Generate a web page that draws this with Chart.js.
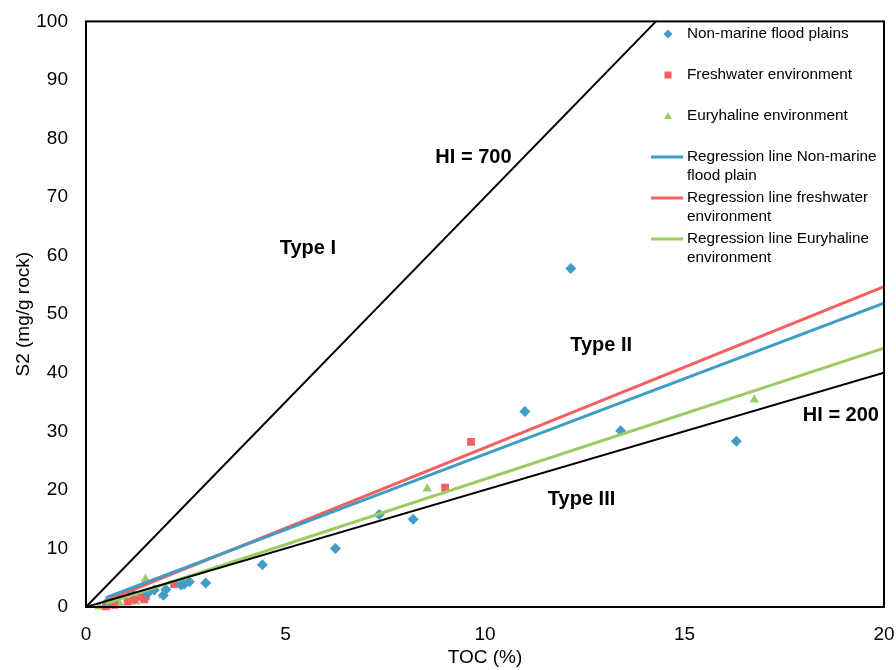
<!DOCTYPE html>
<html>
<head>
<meta charset="utf-8">
<script src="https://cdn.jsdelivr.net/npm/chart.js@4/dist/chart.umd.min.js"></script>
<style>
  html, body { margin: 0; padding: 0; background: #fff; }
  #wrap { width: 896px; height: 670px; }
</style>
</head>
<body>
<div id="wrap"><canvas id="c" width="896" height="670"></canvas></div>
<script>
// ---- Data ----
const tocNonMarine = [0.54, 1.13, 1.54, 1.71, 1.94, 2.0, 2.38, 2.46, 2.59, 3.0, 4.42, 6.25, 7.35, 8.2, 11.0, 12.15, 13.4, 16.3];
const s2NonMarine  = [0.9, 2.5, 2.3, 2.9, 2.0, 3.0, 3.75, 3.9, 4.3, 4.1, 7.2, 10.0, 15.8, 15.0, 33.4, 57.8, 30.1, 28.3];

const tocFreshwater = [0.5, 0.71, 1.04, 1.2, 1.38, 1.46, 1.5, 2.21, 9.0, 9.65];
const s2Freshwater  = [0.1, 0.35, 0.9, 1.3, 1.75, 1.3, 1.8, 3.9, 20.4, 28.2];

const tocEuryhaline = [0.33, 0.63, 0.83, 1.13, 1.25, 1.49, 1.92, 8.55, 16.75];
const s2Euryhaline  = [0.05, 0.6, 0.7, 0.9, 0.9, 4.8, 2.0, 20.2, 35.4];

// regression line end points (TOC, S2)
const regNonMarineToc = [0.5, 20];
const regNonMarineS2  = [1.6, 51.9];
const regFreshToc = [0.5, 20];
const regFreshS2  = [1.1, 54.7];
const regEuryToc = [0.5, 20];
const regEuryS2  = [0.6, 44.2];

// HI reference lines
const hi700Toc = [0, 14.2857];
const hi700S2  = [0, 100];
const hi200Toc = [0, 20];
const hi200S2  = [0, 40];

const xTicks = [0, 5, 10, 15, 20];
const yTicks = [0, 10, 20, 30, 40, 50, 60, 70, 80, 90, 100];

const legendLabels = [
  ["Non-marine flood plains"],
  ["Freshwater environment"],
  ["Euryhaline environment"],
  ["Regression line Non-marine", "flood plain"],
  ["Regression line freshwater", "environment"],
  ["Regression line Euryhaline", "environment"]
];

const annotations = [
  { text: "HI = 700", x: 9.71, y: 76.7 },
  { text: "Type I", x: 5.56, y: 61.3 },
  { text: "Type II", x: 12.91, y: 44.6 },
  { text: "HI = 200", x: 18.92, y: 32.7 },
  { text: "Type III", x: 12.42, y: 18.4 }
];

// ---- helpers ----
const pts = (xs, ys) => xs.map((x, i) => ({ x: x, y: ys[i] }));
const BLUE = '#3f9dc6', RED = '#f65f5f', GREEN = '#9dcb63';
const FONT = "'Liberation Sans', Arial, sans-serif";

const plugins = [{
  id: 'extras',
  afterDatasetsDraw(chart) {
    const ctx = chart.ctx, xs = chart.scales.x, ys = chart.scales.y;
    ctx.save();
    // annotations
    ctx.fillStyle = '#000';
    ctx.font = "bold 20px " + FONT;
    ctx.textAlign = 'center';
    ctx.textBaseline = 'middle';
    annotations.forEach(a => ctx.fillText(a.text, xs.getPixelForValue(a.x), ys.getPixelForValue(a.y)));

    // legend
    const lx = 668, tx = 687;
    const rows = [
      { type: 'diamond', color: BLUE, y: 34 },
      { type: 'square', color: RED, y: 75 },
      { type: 'triangle', color: GREEN, y: 116 },
      { type: 'line', color: BLUE, y: 157 },
      { type: 'line', color: RED, y: 198 },
      { type: 'line', color: GREEN, y: 239 }
    ];
    ctx.font = "15.3px " + FONT;
    ctx.textAlign = 'left';
    rows.forEach((r, i) => {
      ctx.fillStyle = r.color;
      ctx.strokeStyle = r.color;
      if (r.type === 'diamond') {
        ctx.beginPath();
        ctx.moveTo(lx, r.y - 4.5); ctx.lineTo(lx + 4.5, r.y); ctx.lineTo(lx, r.y + 4.5); ctx.lineTo(lx - 4.5, r.y);
        ctx.closePath(); ctx.fill();
      } else if (r.type === 'square') {
        ctx.fillRect(lx - 3.5, r.y - 3.5, 7, 7);
      } else if (r.type === 'triangle') {
        ctx.beginPath();
        ctx.moveTo(lx, r.y - 4); ctx.lineTo(lx + 4, r.y + 3); ctx.lineTo(lx - 4, r.y + 3);
        ctx.closePath(); ctx.fill();
      } else {
        ctx.lineWidth = 3;
        ctx.beginPath(); ctx.moveTo(651, r.y); ctx.lineTo(683, r.y); ctx.stroke();
      }
      ctx.fillStyle = '#000';
      legendLabels[i].forEach((t, j) => ctx.fillText(t, tx, r.y + j * 19));
    });

    // frame
    const ca = chart.chartArea;
    ctx.strokeStyle = '#000';
    ctx.lineWidth = 2;
    ctx.strokeRect(ca.left, ca.top, ca.right - ca.left, ca.bottom - ca.top);
    ctx.restore();
  }
}];

const lineDs = (label, xs, ys, color, width, order) => ({
  type: 'line', label, data: pts(xs, ys), borderColor: color, backgroundColor: color,
  borderWidth: width, pointRadius: 0, showLine: true, fill: false, tension: 0, order
});
const scatterDs = (label, xs, ys, color, style, radius, order) => ({
  type: 'scatter', label, data: pts(xs, ys), backgroundColor: color, borderColor: color,
  borderWidth: 0, pointStyle: style, pointRadius: radius, pointHoverRadius: radius, clip: 8, order
});

new Chart(document.getElementById('c'), {
  type: 'scatter',
  data: {
    datasets: [
      lineDs('HI = 700', hi700Toc, hi700S2, '#000', 2, 0),
      lineDs('HI = 200', hi200Toc, hi200S2, '#000', 2, 0),
      lineDs('Regression line Non-marine flood plain', regNonMarineToc, regNonMarineS2, BLUE, 3, 1),
      lineDs('Regression line freshwater environment', regFreshToc, regFreshS2, RED, 3, 1),
      lineDs('Regression line Euryhaline environment', regEuryToc, regEuryS2, GREEN, 3, 1),
      scatterDs('Non-marine flood plains', tocNonMarine, s2NonMarine, BLUE, 'rectRot', 5.5, 2),
      scatterDs('Freshwater environment', tocFreshwater, s2Freshwater, RED, 'rect', 5.5, 2),
      scatterDs('Euryhaline environment', tocEuryhaline, s2Euryhaline, GREEN, 'triangle', 5.5, 2)
    ]
  },
  options: {
    responsive: false,
    animation: false,
    events: [],
    layout: { padding: { top: 11, right: 0, left: 0, bottom: 0 } },
    plugins: { legend: { display: false }, tooltip: { enabled: false } },
    scales: {
      x: {
        type: 'linear', min: 0, max: 20,
        afterBuildTicks: s => { s.ticks = xTicks.map(v => ({ value: v })); },
        afterFit: s => { s.height = 63; s.paddingRight = 12; s.paddingLeft = 0; },
        grid: { display: false },
        border: { display: false },
        ticks: { color: '#000', font: { size: 19, family: FONT }, padding: 8, maxRotation: 0 },
        title: { display: true, text: 'TOC (%)', color: '#000', font: { size: 19, family: FONT }, padding: { top: 0, bottom: 1 } }
      },
      y: {
        type: 'linear', min: 0, max: 100,
        afterBuildTicks: s => { s.ticks = yTicks.map(v => ({ value: v })); },
        afterFit: s => { s.width = 86; },
        grid: { display: false },
        border: { display: false },
        ticks: { color: '#000', font: { size: 19, family: FONT }, padding: 10 },
        title: { display: true, text: 'S2 (mg/g rock)', color: '#000', font: { size: 19, family: FONT }, padding: { top: 12, bottom: 0 } }
      }
    }
  },
  plugins
});
</script>
</body>
</html>
